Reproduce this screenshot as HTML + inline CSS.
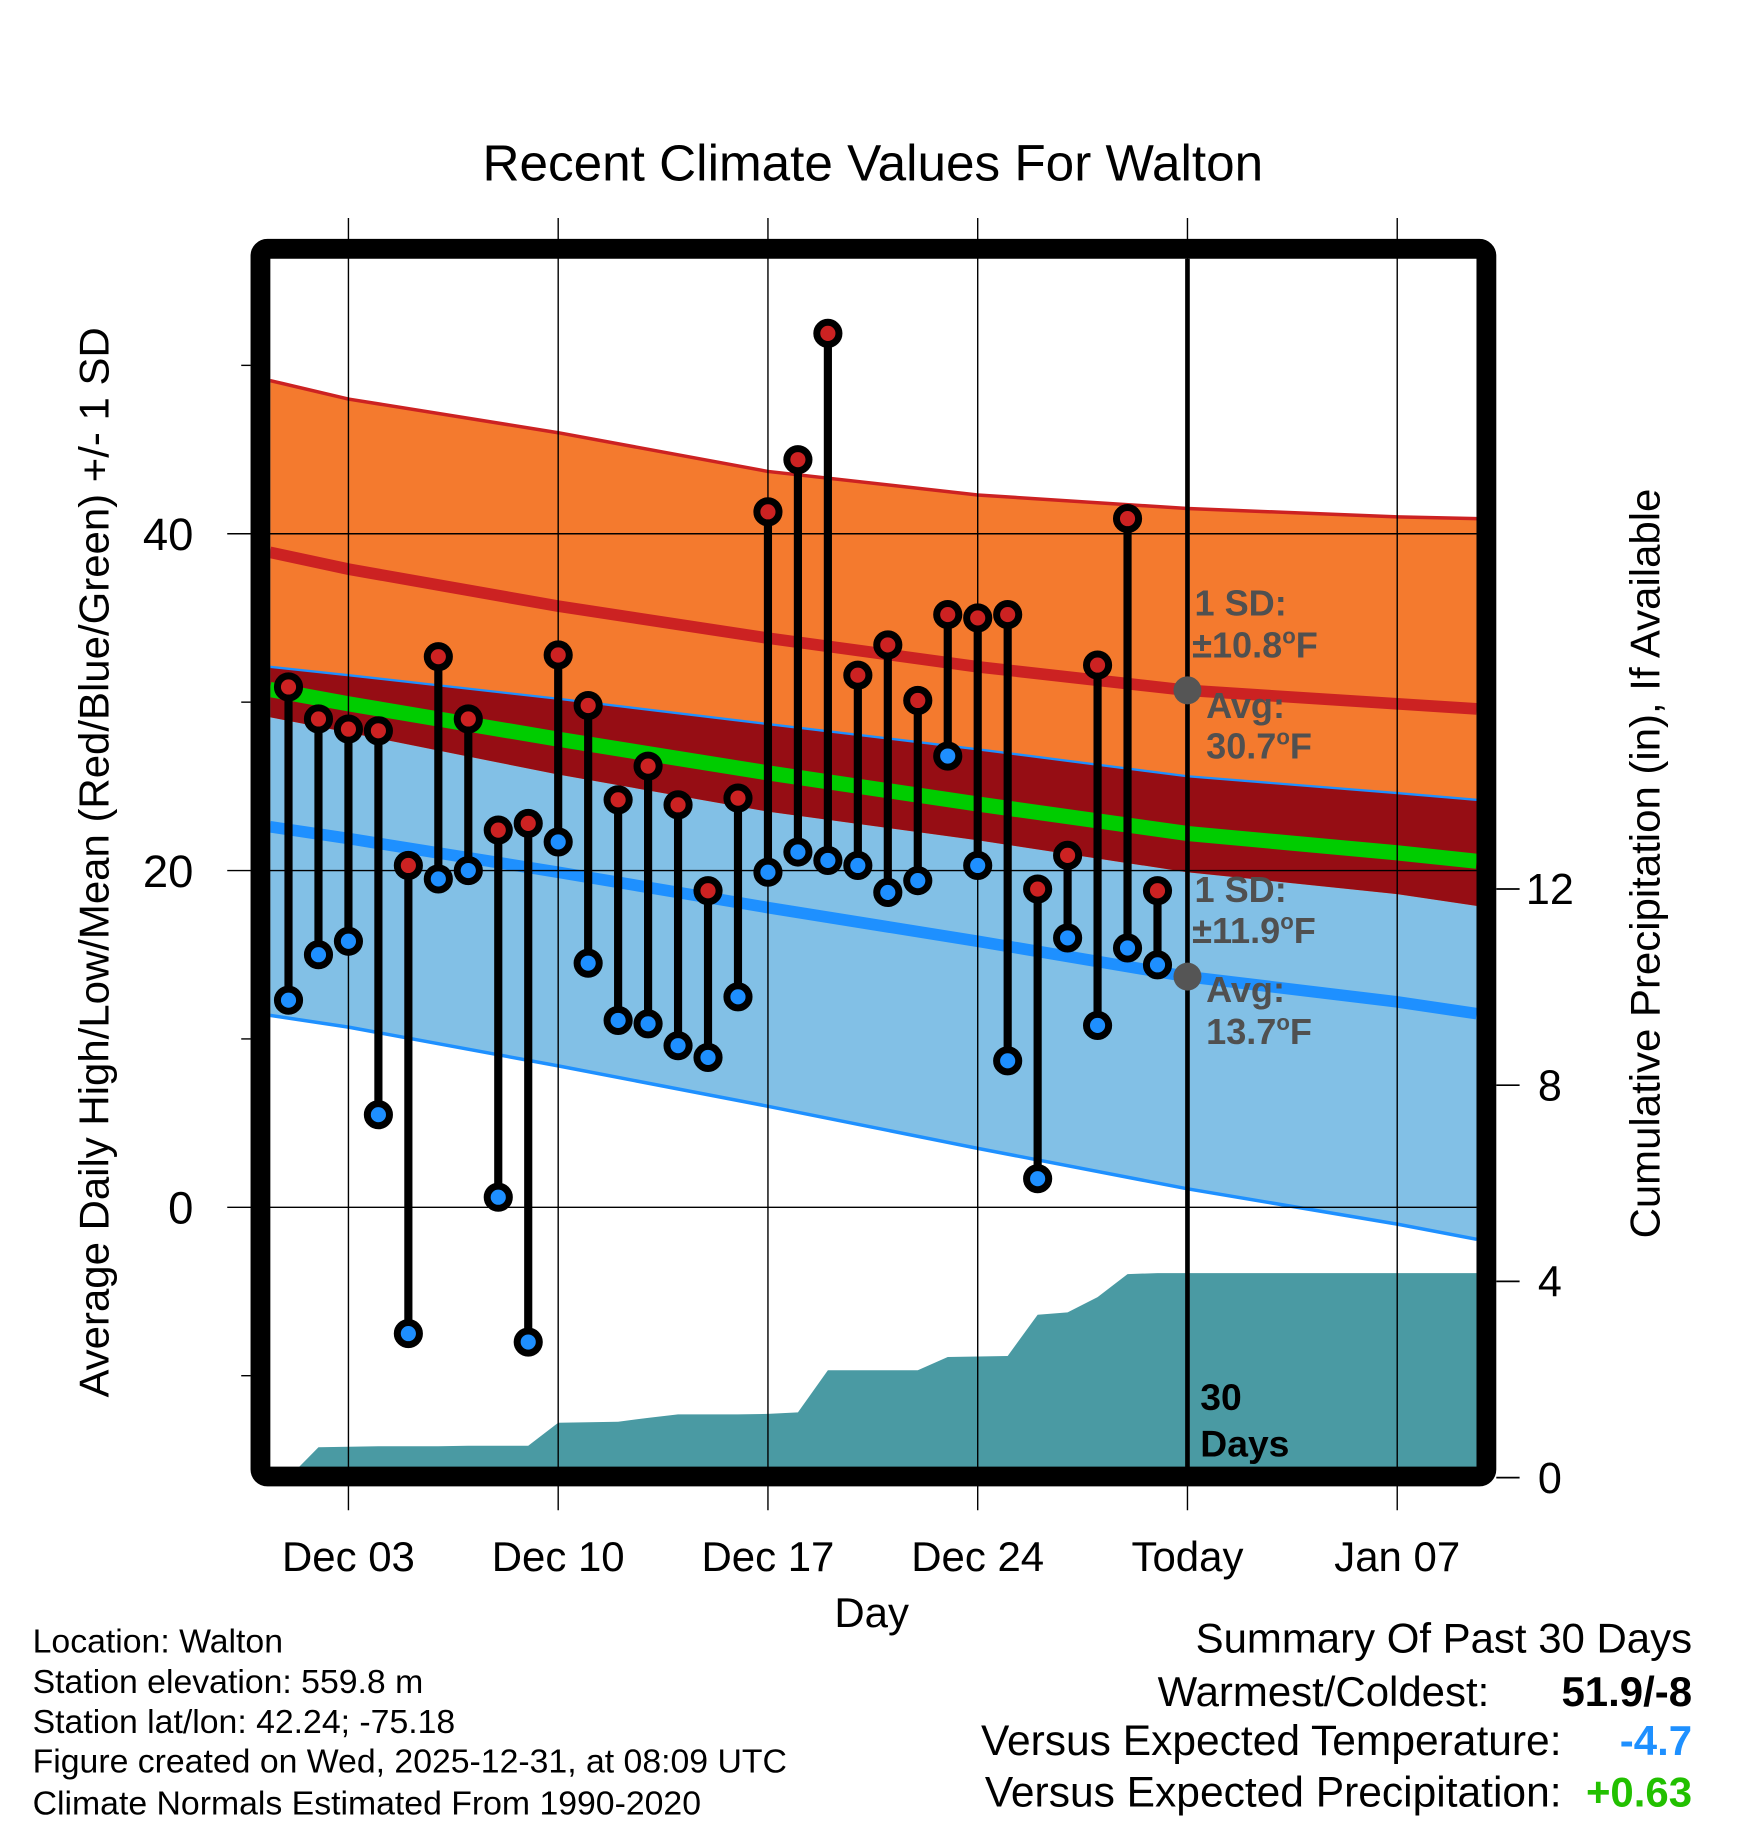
<!DOCTYPE html>
<html><head><meta charset="utf-8"><style>
html,body{margin:0;padding:0;background:#fff;}
svg{display:block;font-family:"Liberation Sans",sans-serif;}
</style></head><body>
<svg id="chart" xmlns="http://www.w3.org/2000/svg" width="1748" height="1828" viewBox="0 0 1500 1568.6">
<defs><clipPath id="plotclip"><rect x="232" y="222" width="1035" height="1037"/></clipPath></defs>
<rect x="0" y="0" width="1500" height="1568.6" fill="#fff"/>
<g id="plot" clip-path="url(#plotclip)"></g>
<g id="overlay"></g>
</svg>
<script>
// ---- data ----
const days = [1,2,3,4,5,6,7,8,9,10,11,12,13,14,15,16,17,18,19,20,21,22,23,24,25,26,27,28,29,30];
const highs = [30.9,29.0,28.4,28.3,20.3,32.7,29.0,22.4,22.8,32.8,29.8,24.2,26.2,23.9,18.8,24.3,41.3,44.4,51.9,31.6,33.4,30.1,35.2,35.0,35.2,18.9,20.9,32.2,40.9,18.8];
const lows = [12.3,15.0,15.8,5.5,-7.5,19.5,20.0,0.6,-8.0,21.7,14.5,11.1,10.9,9.6,8.9,12.5,19.9,21.1,20.6,20.3,18.7,19.4,26.8,20.3,8.7,1.7,16.0,10.8,15.4,14.4];
const precip = [0,0.62,0.63,0.64,0.64,0.64,0.65,0.65,0.65,1.12,1.13,1.14,1.22,1.29,1.29,1.29,1.30,1.33,2.19,2.19,2.19,2.19,2.46,2.47,2.48,3.32,3.37,3.68,4.15,4.17];
const normDays = [0.38,3,10,17,24,31,38,40.65];
const highUpper = [49.1,48.0,46.0,43.7,42.3,41.5,41.0,40.9];
const highMean = [38.9,37.9,35.7,33.8,32.1,30.7,29.9,29.6];
const highLower = [29.1,28.2,25.7,23.5,21.8,19.9,18.6,17.9];
const lowUpper = [32.1,31.6,30.2,28.7,27.2,25.6,24.6,24.2];
const lowMean = [22.6,21.9,19.9,17.8,15.8,13.7,12.2,11.5];
const lowLower = [11.4,10.7,8.4,6.0,3.5,1.1,-1.0,-1.9];
const xTickDays = [3,10,17,24,31,38];
const xTickLabels = ["Dec 03","Dec 10","Dec 17","Dec 24","Today","Jan 07"];
const yTicks = [-10,0,10,20,30,40,50];
const yTickLabels = ["","0","","20","","40",""];
const pTicks = [0,4,8,12];
const todayDay = 31;

// ---- axes ----
const X = d => 299 + (d - 3) * 25.714;
const Y = t => 1036 - t * 14.45;
const P = p => 1268 - p * 42.1;

const NS = "http://www.w3.org/2000/svg";
const svg = document.getElementById('chart');
const plot = document.getElementById('plot');
const over = document.getElementById('overlay');
function mk(tag, attrs, parent){
  const e = document.createElementNS(NS, tag);
  for (const k in attrs) e.setAttribute(k, attrs[k]);
  (parent||svg).appendChild(e);
  return e;
}
function txt(s, attrs, parent){ const e = mk('text', attrs, parent); e.textContent = s; return e; }
function linePts(arr){ return normDays.map((d,i)=>X(d)+','+Y(arr[i])).join(' '); }
function bandPts(a,b){
  const top = normDays.map((d,i)=>X(d)+','+Y(a[i]));
  const bot = normDays.map((d,i)=>X(d)+','+Y(b[i])).reverse();
  return top.concat(bot).join(' ');
}

let e;
e = mk('polygon',{points:bandPts(lowUpper,lowLower),fill:'#82c0e6'},plot);
 
e = mk('polygon',{points:bandPts(highUpper,highLower),fill:'#f47a2e'},plot);
 
e = mk('polygon',{points:bandPts(lowUpper,highLower),fill:'#960d14'},plot);
 

{
  let pts = days.map((d,i)=>X(d)+','+P(precip[i]));
  pts.push(X(41)+','+P(precip[precip.length-1]));
  pts.push(X(41)+','+P(-1));
  pts.push(X(days[0])+','+P(-1));
  e = mk('polygon',{points:pts.join(' '),fill:'#4a9aa3'},plot);
   
}

const meanLine = lowMean.map((v,i)=>(v+highMean[i])/2);
e = mk('polyline',{points:linePts(highUpper),fill:'none',stroke:'#cc2222','stroke-width':3},plot);
 
e = mk('polyline',{points:linePts(lowUpper),fill:'none',stroke:'#1e90ff','stroke-width':2},plot);
 
e = mk('polyline',{points:linePts(lowLower),fill:'none',stroke:'#1e90ff','stroke-width':3},plot);
 
e = mk('polyline',{points:linePts(highMean),fill:'none',stroke:'#cc2222','stroke-width':10},plot);
 
e = mk('polyline',{points:linePts(lowMean),fill:'none',stroke:'#1e90ff','stroke-width':10},plot);
 
e = mk('polyline',{points:linePts(meanLine),fill:'none',stroke:'#00cc00','stroke-width':13},plot);
 

xTickDays.forEach((d,i)=>{
  const g = mk('line',{x1:X(d),x2:X(d),y1:187,y2:1296,stroke:'#000','stroke-width':1.2},over);
   
});
yTicks.forEach((t,i)=>{
  const major = yTickLabels[i] !== "";
  const g = mk('line',{x1:major?195:207,x2:major?1267:215,y1:Y(t),y2:Y(t),stroke:'#000','stroke-width':1.2},over);
   
  if (major){
    const l = txt(yTickLabels[i],{x:166,y:Y(t)+14,'font-size':39,'text-anchor':'end'},over);
     
  }
});
pTicks.forEach(p=>{
  const g = mk('line',{x1:1284,x2:1304,y1:P(p),y2:P(p),stroke:'#000','stroke-width':1.5},over);
   
  const l = txt(String(p),{x:1330,y:P(p)+13,'font-size':37,'text-anchor':'middle'},over);
   
});

e = mk('line',{x1:X(todayDay),x2:X(todayDay),y1:222,y2:1260,stroke:'#000','stroke-width':4},over);
 

days.forEach((d,i)=>{
  const s = mk('line',{x1:X(d),x2:X(d),y1:Y(highs[i]),y2:Y(lows[i]),stroke:'#000','stroke-width':7},over);
   
});
days.forEach((d,i)=>{
  const h = mk('circle',{cx:X(d),cy:Y(highs[i]),r:9.5,fill:'#cc2222',stroke:'#000','stroke-width':6},over);
   
  const l = mk('circle',{cx:X(d),cy:Y(lows[i]),r:9.5,fill:'#1e8fff',stroke:'#000','stroke-width':6},over);
   
});

const todayHigh = highMean[5], todayLow = lowMean[5];
e = mk('circle',{cx:X(todayDay),cy:Y(todayHigh),r:12,fill:'#555'},over);
 
e = mk('circle',{cx:X(todayDay),cy:Y(todayLow),r:12,fill:'#555'},over);
 
const ann = [
 ["1 SD:",1025,528,'high-sd-label',false],["±10.8",1023,564,'high-sd-value',true],
 ["Avg:",1035,616,'high-avg-label',false],["30.7",1035,651,'high-avg-value',true],
 ["1 SD:",1025,774,'low-sd-label',false],["±11.9",1023,809,'low-sd-value',true],
 ["Avg:",1035,860,'low-avg-label',false],["13.7",1035,896,'low-avg-value',true]];
ann.forEach(a=>{
  const t = mk('text',{x:a[1],y:a[2],'font-size':31,'font-weight':'bold',fill:'#505050'},over);
  t.appendChild(document.createTextNode(a[0]));
  if (a[4]){
    const sup = mk('tspan',{dy:-12,'font-size':19},t); sup.textContent='o';
    const f = mk('tspan',{dy:12},t); f.textContent='F';
  }
   
});
e = txt("30",{x:1030,y:1210,'font-size':32,'font-weight':'bold'},over);
 
e = txt("Days",{x:1030,y:1250,'font-size':32,'font-weight':'bold'},over);
 

e = mk('rect',{x:223.5,y:213.5,width:1052,height:1053.5,rx:6,fill:'none',stroke:'#000','stroke-width':17},over);
 

xTickDays.forEach((d,i)=>{
  const l = txt(xTickLabels[i],{x:X(d),y:1348,'font-size':36,'text-anchor':'middle'},over);
   
});
</script>
<script>
(function(){
const NS="http://www.w3.org/2000/svg", svg=document.getElementById('chart');
function t(s,a,name){const e=document.createElementNS(NS,'text');for(const k in a)e.setAttribute(k,a[k]);e.textContent=s;svg.appendChild(e);


return e;}
t("Recent Climate Values For Walton",{x:749,y:155,'font-size':44,'text-anchor':'middle'},'chart-title');
t("Day",{x:748,y:1396,'font-size':36,'text-anchor':'middle'},'x-axis-title');
t("Average Daily High/Low/Mean (Red/Blue/Green) +/- 1 SD",{x:0,y:0,'font-size':36,'text-anchor':'middle',transform:'translate(93,740) rotate(-90)'},'y-axis-title');
t("Cumulative Precipitation (in), If Available",{x:0,y:0,'font-size':36,'text-anchor':'middle',transform:'translate(1424,741) rotate(-90)'},'right-y-axis-title');
const info=["Location: Walton","Station elevation: 559.8 m","Station lat/lon: 42.24; -75.18","Figure created on Wed, 2025-12-31, at 08:09 UTC","Climate Normals Estimated From 1990-2020"];
const ys=[1418,1453,1487,1521,1557];
info.forEach((s,i)=>t(s,{x:28,y:ys[i],'font-size':29},'station-info-line'));
t("Summary Of Past 30 Days",{x:1452,y:1418,'font-size':36,'text-anchor':'end'},'summary-title');
t("Warmest/Coldest:",{x:1278,y:1464,'font-size':36,'text-anchor':'end'},'warmest-coldest-label');
t("51.9/-8",{x:1452,y:1464,'font-size':36,'font-weight':'bold','text-anchor':'end'},'warmest-coldest-value');
t("Versus Expected Temperature:",{x:1340,y:1506,'font-size':36.5,'text-anchor':'end'},'temp-anomaly-label');
t("-4.7",{x:1452,y:1506,'font-size':36,'font-weight':'bold','text-anchor':'end',fill:'#1e90ff'},'temp-anomaly-value');
t("Versus Expected Precipitation:",{x:1340,y:1550,'font-size':36.5,'text-anchor':'end'},'precip-anomaly-label');
t("+0.63",{x:1452,y:1550,'font-size':36,'font-weight':'bold','text-anchor':'end',fill:'#22c000'},'precip-anomaly-value');
})();
</script>
</body></html>
